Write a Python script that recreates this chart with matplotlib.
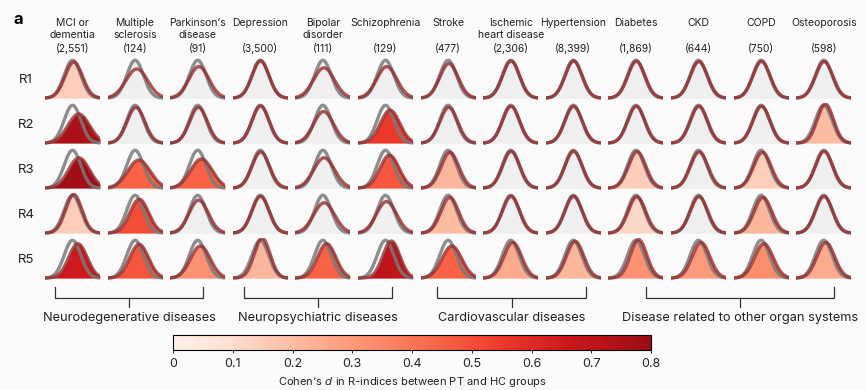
import numpy as np
import matplotlib
matplotlib.use("Agg")
import matplotlib.pyplot as plt
from matplotlib.colors import LinearSegmentedColormap, Normalize
from matplotlib.colorbar import ColorbarBase
from matplotlib.lines import Line2D

plt.rcParams['font.family'] = ['Inter', 'DejaVu Sans']

# header names (two lines) and sample sizes
diseases = ["MCI or\ndementia", "Multiple\nsclerosis", "Parkinson\u2019s\ndisease", "Depression",
            "Bipolar\ndisorder", "Schizophrenia", "Stroke", "Ischemic\nheart disease",
            "Hypertension", "Diabetes", "CKD", "COPD", "Osteoporosis"]
counts = ["(2,551)", "(124)", "(91)", "(3,500)", "(111)", "(129)", "(477)", "(2,306)",
          "(8,399)", "(1,869)", "(644)", "(750)", "(598)"]
rows = ["R1", "R2", "R3", "R4", "R5"]

# Cohen's d per row (R1..R5) x disease
d_r1 = [0.15, 0.20, 0.15, 0.03, 0.12, 0.15, 0.10, 0.05, 0.04, 0.06, 0.05, 0.05, 0.06]
d_r2 = [0.75, 0.10, 0.10, 0.03, 0.08, 0.55, 0.08, 0.04, 0.03, 0.05, 0.05, 0.05, 0.20]
d_r3 = [0.78, 0.45, 0.45, 0.05, 0.15, 0.48, 0.22, 0.06, 0.03, 0.15, 0.08, 0.15, 0.05]
d_r4 = [0.15, 0.50, 0.12, 0.03, 0.15, 0.12, 0.20, 0.04, 0.03, 0.12, 0.06, 0.22, 0.04]
d_r5 = [0.65, 0.48, 0.32, 0.22, 0.45, 0.70, 0.45, 0.25, 0.22, 0.32, 0.30, 0.33, 0.25]

# significant cells (coloured), others drawn grey
sig_r1 = [1, 0, 0, 0, 0, 0, 0, 0, 0, 0, 0, 0, 0]
sig_r2 = [1, 0, 0, 0, 0, 1, 0, 0, 0, 0, 0, 0, 1]
sig_r3 = [1, 1, 1, 0, 0, 1, 1, 0, 0, 1, 0, 1, 0]
sig_r4 = [1, 1, 0, 0, 0, 0, 1, 0, 0, 1, 0, 1, 0]
sig_r5 = [1, 1, 1, 1, 1, 1, 1, 1, 1, 1, 1, 1, 1]

# PT spread relative to HC
sd_r1 = [1.05, 1.30, 1.20, 1.02, 1.25, 1.20, 1.10, 1.02, 1.02, 1.03, 1.04, 1.03, 1.04]
sd_r2 = [1.30, 1.06, 1.06, 1.02, 1.20, 1.15, 1.06, 1.03, 1.03, 1.03, 1.03, 1.03, 0.97]
sd_r3 = [1.25, 1.35, 1.30, 1.05, 1.25, 1.15, 1.06, 1.03, 1.03, 1.04, 1.05, 1.06, 1.03]
sd_r4 = [0.98, 1.12, 1.15, 1.03, 1.25, 1.20, 1.06, 1.03, 1.03, 1.04, 1.04, 1.06, 1.03]
sd_r5 = [1.10, 1.12, 1.18, 0.95, 1.10, 1.02, 1.18, 1.06, 1.03, 0.98, 1.06, 1.10, 1.06]

groups = ["Neurodegenerative diseases", "Neuropsychiatric diseases",
          "Cardiovascular diseases", "Disease related to other organ systems"]
group_px = [(55, 203), (244, 392), (437, 586), (646, 834)]

d_all = np.array([d_r1, d_r2, d_r3, d_r4, d_r5])
sig_all = np.array([sig_r1, sig_r2, sig_r3, sig_r4, sig_r5])
sd_all = np.array([sd_r1, sd_r2, sd_r3, sd_r4, sd_r5])

W, H = 865, 390
bg = "#fafafa"
fig = plt.figure(figsize=(W / 100, H / 100), dpi=100, facecolor=bg)

cmap = LinearSegmentedColormap.from_list(
    "reds", plt.cm.Reds(np.linspace(0.03, 0.9, 256)))
norm = Normalize(0, 0.8)


def fx(px):
    return px / W


def fy(py):
    return 1 - py / H


lim = 3.3
x = np.linspace(-lim, lim, 240)
col_left = 45
col_pitch = 62.6
cell_w = 55
row_base = [98, 143, 188, 233, 278]
cell_h = 42

for i in range(5):
    for j in range(13):
        left = col_left + j * col_pitch
        ax = fig.add_axes([fx(left), fy(row_base[i] + 2), cell_w / W, cell_h / H])
        ax.set_facecolor(bg)
        d = d_all[i, j]
        s = sd_all[i, j]
        hc = np.exp(-0.5 * x ** 2)
        pt = np.exp(-0.5 * ((x - d) / s) ** 2) / s
        fill = cmap(norm(d)) if sig_all[i, j] else "#efefef"
        ax.fill_between(x, 0, pt, color=fill, lw=0, zorder=1)
        if not sig_all[i, j]:
            ax.fill_between(x, 0, hc, color="#efefef", lw=0, zorder=0)
        ax.plot(x, hc, color="#7a7a7a", lw=2.4, alpha=0.85, zorder=2)
        ax.plot(x, pt, color="#962a2c", lw=2.4, alpha=0.78, zorder=3)
        ax.set_xlim(-lim, lim)
        ax.set_ylim(-0.05, 1.06)
        ax.axis("off")

# headers
for j in range(13):
    cx = col_left + j * col_pitch + cell_w / 2
    fig.text(fx(cx), fy(18.5), diseases[j], ha="center", va="top", fontsize=7.5,
             linespacing=1.15, color="#222222")
    fig.text(fx(cx), fy(49), counts[j], ha="center", va="center", fontsize=7.5,
             color="#222222")

for i, r in enumerate(rows):
    fig.text(fx(26), fy(row_base[i] - 18), r, ha="center", va="center",
             fontsize=9.5, color="#222222")

fig.text(fx(14), fy(19), "a", ha="left", va="center", fontsize=12,
         fontweight="bold", color="black")

# group brackets
for (x0, x1), g in zip(group_px, groups):
    xm = (x0 + x1) / 2
    fig.add_artist(Line2D([fx(x0), fx(x0), fx(x1), fx(x1)],
                          [fy(287), fy(298), fy(298), fy(287)],
                          color="#333333", lw=0.9))
    fig.add_artist(Line2D([fx(xm), fx(xm)], [fy(298), fy(307)],
                          color="#333333", lw=0.9))
    fig.text(fx(xm), fy(318), g, ha="center", va="center", fontsize=9.2,
             color="#222222")

# colorbar
cax = fig.add_axes([fx(173), fy(350), (651 - 173) / W, 15 / H])
cb = ColorbarBase(cax, cmap=cmap, norm=norm, orientation="horizontal",
                  ticks=[0, 0.1, 0.2, 0.3, 0.4, 0.5, 0.6, 0.7, 0.8])
cb.ax.set_xticklabels(["0", "0.1", "0.2", "0.3", "0.4", "0.5", "0.6", "0.7", "0.8"])
cb.ax.tick_params(labelsize=9, length=2.5, width=0.7, pad=3, colors="#222222")
cb.outline.set_linewidth(0.8)
fig.text(fx(412), fy(382), "Cohen\u2019s $\\it{d}$ in R-indices between PT and HC groups",
         ha="center", va="center", fontsize=8, color="#222222")

fig.savefig("out.png", dpi=100, facecolor=bg)
